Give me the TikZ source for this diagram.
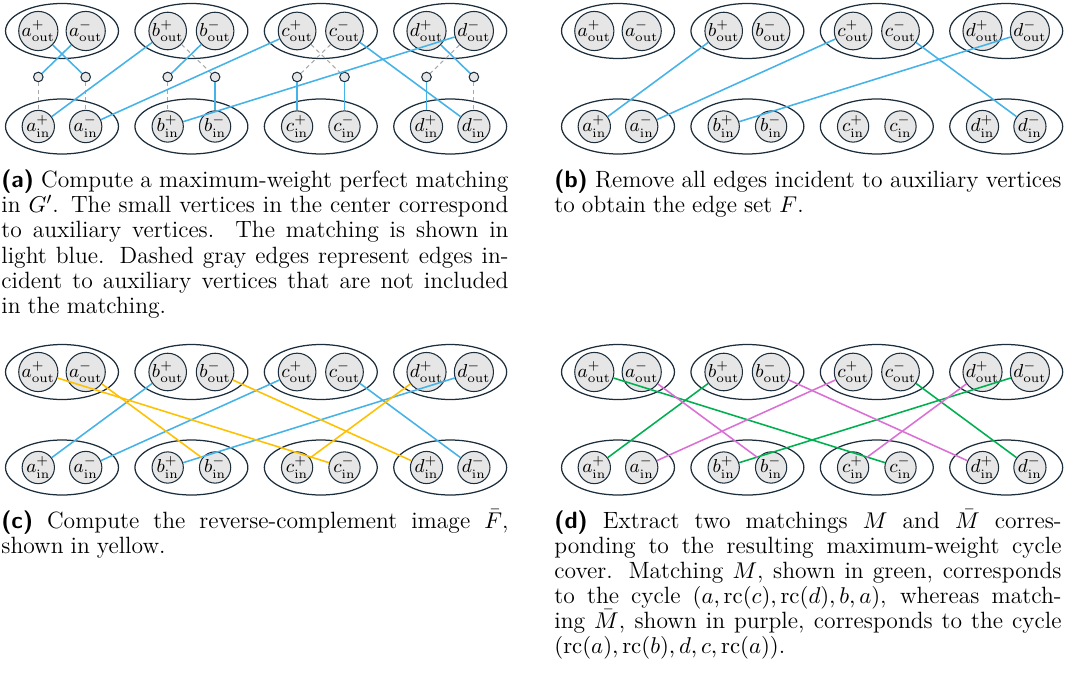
\documentclass[tikz,border=0pt]{standalone}
\usetikzlibrary{shapes.geometric}
\definecolor{mblue}{HTML}{45B3E7}
\definecolor{myellow}{HTML}{FFC000}
\definecolor{mgreen}{HTML}{00B050}
\definecolor{mpurple}{HTML}{DA6FD5}
\definecolor{mdark}{HTML}{1C2D3B}
\definecolor{mfill}{HTML}{E6E6E6}
\definecolor{mgray}{HTML}{A8A8A8}
\newcommand\mycapsetup{\tolerance=10000 \hyphenpenalty=10000 \exhyphenpenalty=10000 \fontsize{11.3}{12.25}\selectfont \spaceskip=0.3em plus 0.5em minus 0.12em}
\tikzset{
  ell/.style={draw=mdark, line width=0.6pt, ellipse, minimum width=54.2pt, minimum height=26.4pt, inner sep=0pt},
  vtx/.style={draw=mdark, line width=0.5pt, circle, fill=mfill, minimum size=15pt, inner sep=0pt, font=\fontsize{8.7}{10}\selectfont},
  aux/.style={draw=mdark, line width=0.5pt, circle, fill=mfill, minimum size=4.6pt, inner sep=0pt},
  eblue/.style={draw=mblue, line width=0.75pt},
  eyellow/.style={draw=myellow, line width=0.75pt},
  egreen/.style={draw=mgreen, line width=0.75pt},
  epurple/.style={draw=mpurple, line width=0.75pt},
  egray/.style={draw=mgray, line width=0.5pt, dash pattern=on 2pt off 1.6pt},
  capt/.style={anchor=base west, inner sep=0pt, text width=243.4pt, align=justify}
}
\begin{document}
\begin{tikzpicture}[x=0.48pt, y=-0.48pt]
\useasboundingbox (0,0) rectangle (1071,672);
% groups
\foreach \P/\ox/\oy in {A/0/0, B/556/0, C/0/341, D/556/341}{
  \foreach \g [count=\i from 0] in {a,b,c,d}{
    \pgfmathsetmacro\cx{62+129.4*\i+\ox}
    \pgfmathsetmacro\ty{31+\oy}
    \pgfmathsetmacro\by{126.5+\oy}
    \node[ell] (\P-\g-eo) at (\cx,\ty) {};
    \node[ell] (\P-\g-ei) at (\cx,\by) {};
    \node[vtx] (\P-\g-op) at (\cx-23.7,\ty) {$\g^{+}_{\mathrm{out}}$};
    \node[vtx] (\P-\g-om) at (\cx+23.7,\ty) {$\g^{-}_{\mathrm{out}}$};
    \node[vtx] (\P-\g-ip) at (\cx-23.7,\by) {$\g^{+}_{\mathrm{in}}$};
    \node[vtx] (\P-\g-im) at (\cx+23.7,\by) {$\g^{-}_{\mathrm{in}}$};
  }
}
% auxiliary vertices in panel A
\foreach \g [count=\i from 0] in {a,b,c,d}{
  \pgfmathsetmacro\cx{62+129.4*\i}
  \node[aux] (A-\g-x1) at (\cx-23.7,77) {};
  \node[aux] (A-\g-x2) at (\cx+23.7,77) {};
}
% panel A edges
\foreach \u/\v in {A-a-x1/A-a-ip, A-a-x2/A-a-im, A-b-x1/A-b-ip, A-b-op/A-b-x2, A-c-om/A-c-x1, A-c-op/A-c-x2, A-d-om/A-d-x1, A-d-x2/A-d-im}
  \draw[egray] (\u) -- (\v);
\foreach \u/\v in {A-a-om/A-a-x1, A-a-op/A-a-x2, A-b-op/A-a-ip, A-c-op/A-a-im, A-b-om/A-b-x1, A-b-x2/A-b-im, A-d-om/A-b-ip, A-c-x1/A-c-ip, A-c-x2/A-c-im, A-c-om/A-d-im, A-d-op/A-d-x2, A-d-x1/A-d-ip}
  \draw[eblue] (\u) -- (\v);
% panels B and C blue edges
\foreach \P in {B,C}
  \foreach \u/\v in {b-op/a-ip, c-op/a-im, d-om/b-ip, c-om/d-im}
    \draw[eblue] (\P-\u) -- (\P-\v);
% panel C yellow
\foreach \u/\v in {a-op/c-im, a-om/b-im, b-om/d-ip, d-op/c-ip}
  \draw[eyellow] (C-\u) -- (C-\v);
% panel D
\foreach \u/\v in {a-op/c-im, b-op/a-ip, c-om/d-im, d-om/b-ip}
  \draw[egreen] (D-\u) -- (D-\v);
\foreach \u/\v in {a-om/b-im, c-op/a-im, b-om/d-ip, d-op/c-ip}
  \draw[epurple] (D-\u) -- (D-\v);
% captions
\node[capt] (capa) at (1,188) {\mycapsetup{\sffamily\bfseries (a)} Compute a maximum-weight perfect matching\linebreak in $G'$. The small vertices in the center correspond\linebreak to auxiliary vertices. The matching is shown in\linebreak light blue. Dashed gray edges represent edges in-\linebreak cident to auxiliary vertices that are not included\linebreak in the matching.};
\node[capt] (capb) at (554,188) {\mycapsetup{\sffamily\bfseries (b)} Remove all edges incident to auxiliary vertices\linebreak to obtain the edge set $F$.};
\node[capt] (capc) at (1,528.5) {\mycapsetup{\sffamily\bfseries (c)} Compute the reverse-complement image $\bar{F}$,\linebreak shown in yellow.};
\node[capt] (capd) at (554,528.5) {\mycapsetup{\sffamily\bfseries (d)} Extract two matchings $M$ and $\bar{M}$ corres-\linebreak ponding to the resulting maximum-weight cycle\linebreak cover. Matching $M$, shown in green, corresponds\linebreak to the cycle $(a, \mathrm{rc}(c), \mathrm{rc}(d), b, a)$, whereas match-\linebreak ing $\bar{M}$, shown in purple, corresponds to the cycle\linebreak $(\mathrm{rc}(a), \mathrm{rc}(b), d, c, \mathrm{rc}(a))$.};
\end{tikzpicture}
\end{document}
